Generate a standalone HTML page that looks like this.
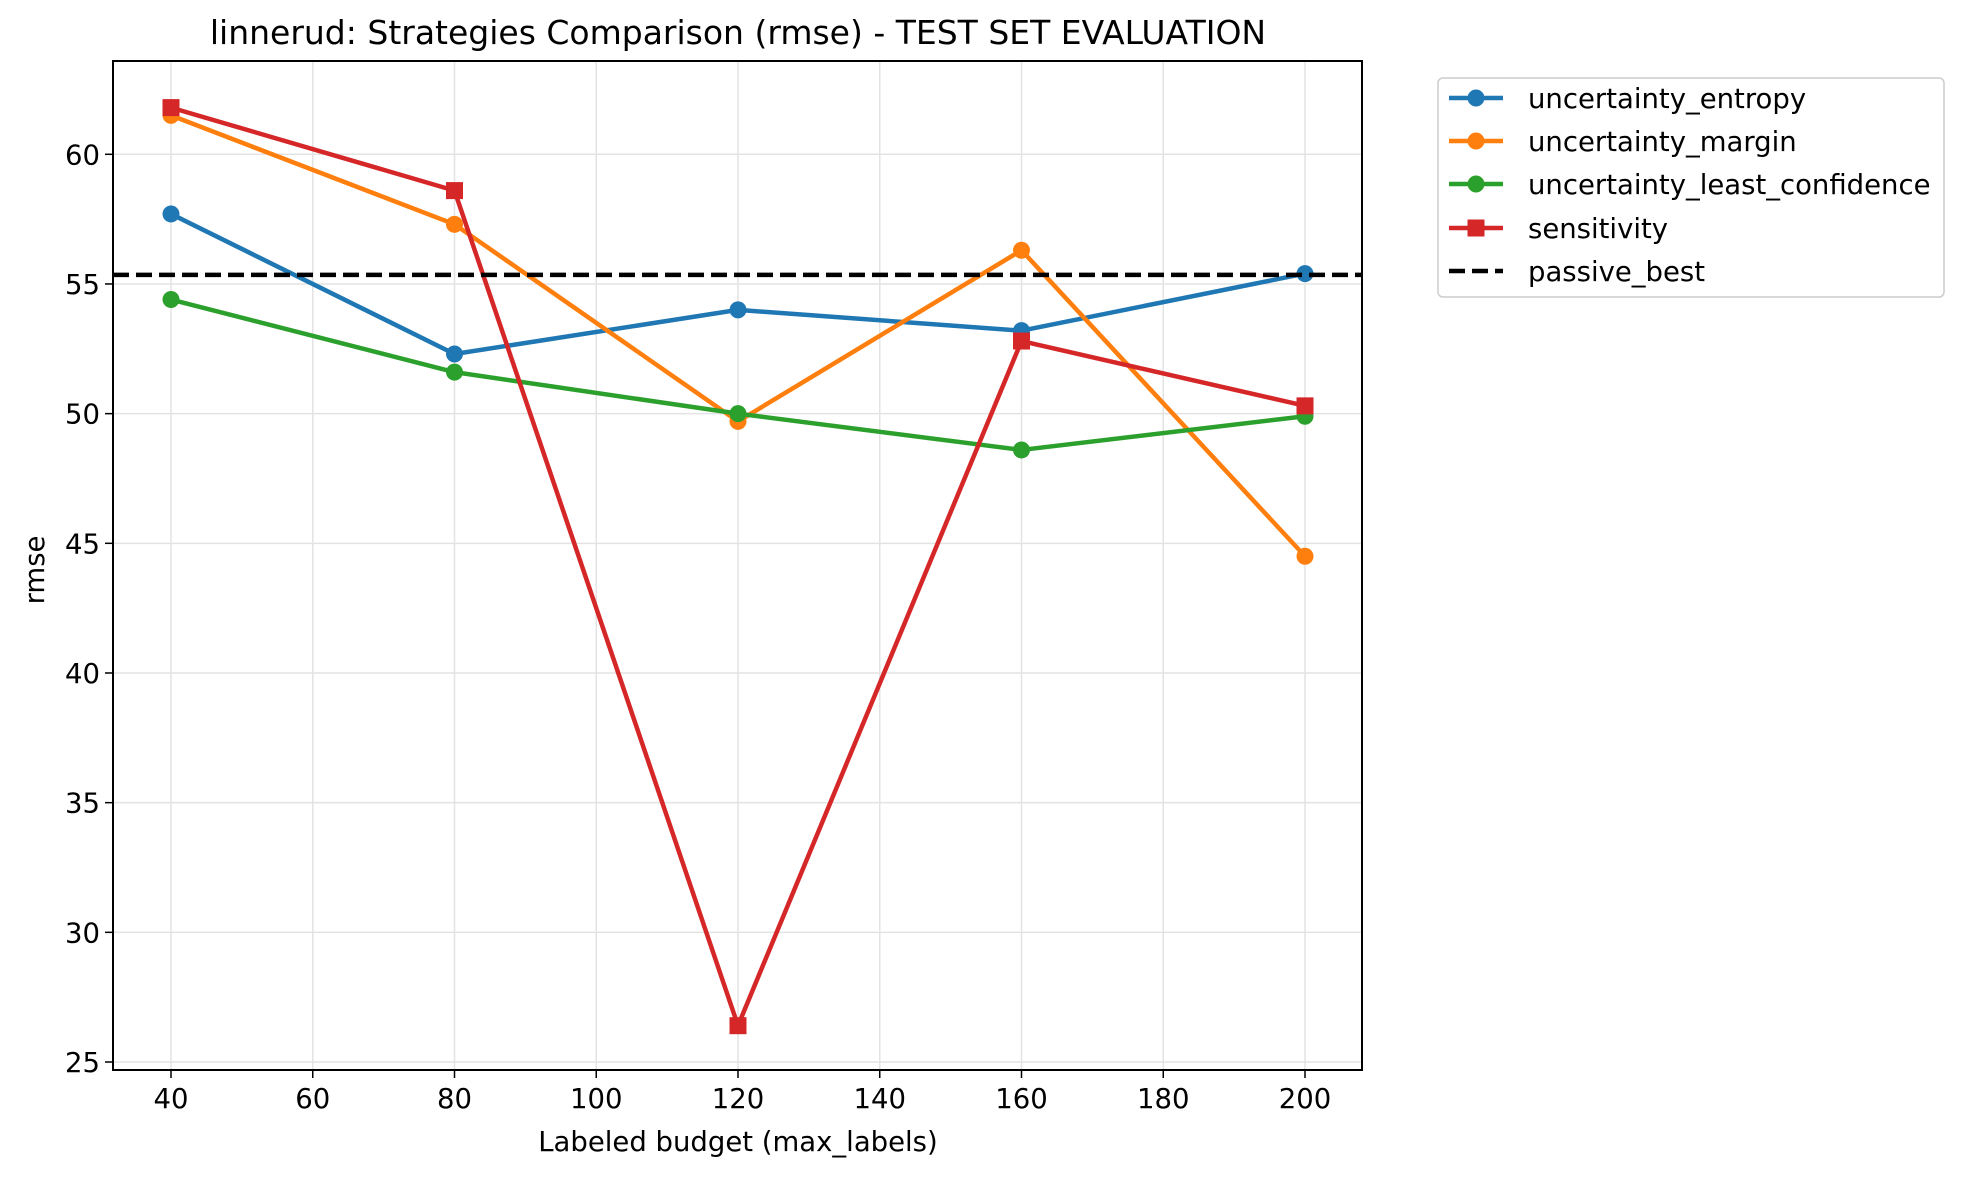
<!DOCTYPE html>
<html><head><meta charset="utf-8"><style>
body{margin:0;background:#fff;}
svg text{font-family:"DejaVu Sans","Liberation Sans",sans-serif;fill:#000;}
</style></head><body>
<svg id="chart" width="1964" height="1178" viewBox="0 0 1964 1178" xmlns="http://www.w3.org/2000/svg">
<rect width="1964" height="1178" fill="#fff"/>
<g id="grid"></g>
<g id="ticks"></g>
<g id="series"></g>
<rect x="113" y="61" width="1249" height="1009" fill="none" stroke="#000" stroke-width="2"/>
<text x="738" y="44" font-size="33" text-anchor="middle">linnerud: Strategies Comparison (rmse) - TEST SET EVALUATION</text>
<text x="738" y="1151" font-size="27.5" text-anchor="middle">Labeled budget (max_labels)</text>
<text x="0" y="0" font-size="27.5" text-anchor="middle" transform="translate(44,570) rotate(-90)">rmse</text>
<g id="legend"></g>
</svg>
<script>
const budgets=[40,80,120,160,200];
const entropy=[57.7,52.3,54.0,53.2,55.4];
const margin=[61.5,57.3,49.7,56.3,44.5];
const leastConf=[54.4,51.6,50.0,48.6,49.9];
const sensitivity=[61.8,58.6,26.4,52.8,50.3];
const passiveBest=55.35;
const xTicks=[40,60,80,100,120,140,160,180,200];
const yTicks=[25,30,35,40,45,50,55,60];
const seriesNames=["uncertainty_entropy","uncertainty_margin","uncertainty_least_confidence","sensitivity","passive_best"];

const NS="http://www.w3.org/2000/svg";
const L=113,R=1362,T=61,B=1070;
function xs(v){return 171+(v-40)*(1305-171)/160;}
function ys(v){return 154.3+(60-v)*(1062-154.3)/35;}
function mk(tag,attrs,parent){const e=document.createElementNS(NS,tag);for(const k in attrs)e.setAttribute(k,attrs[k]);parent.appendChild(e);return e;}
const grid=document.getElementById('grid'),ticks=document.getElementById('ticks'),ser=document.getElementById('series'),leg=document.getElementById('legend');
xTicks.forEach(t=>{const x=xs(t);
 const g=mk('line',{x1:x,x2:x,y1:T,y2:B,stroke:'#e3e3e3','stroke-width':1.5},grid);
 
 const tk=mk('line',{x1:x,x2:x,y1:B,y2:B+8,stroke:'#000','stroke-width':1.5},ticks);
 
 const tx=mk('text',{x:x,y:B+38,'font-size':27.5,'text-anchor':'middle'},ticks);tx.textContent=t;
 });
yTicks.forEach(t=>{const y=ys(t);
 const g=mk('line',{x1:L,x2:R,y1:y,y2:y,stroke:'#e3e3e3','stroke-width':1.5},grid);
 
 const tk=mk('line',{x1:L-8,x2:L,y1:y,y2:y,stroke:'#000','stroke-width':1.5},ticks);
 
 const tx=mk('text',{x:L-13,y:y+10,'font-size':27.5,'text-anchor':'end'},ticks);tx.textContent=t;
 });
const defs=[[entropy,'#1f77b4','o'],[margin,'#ff7f0e','o'],[leastConf,'#2ca02c','o'],[sensitivity,'#d62728','s']];
function marker(shape,x,y,c,parent){
 let m;
 if(shape==='o')m=mk('circle',{cx:x,cy:y,r:8.5,fill:c},parent);
 else m=mk('rect',{x:x-8.5,y:y-8.5,width:17,height:17,fill:c},parent);
 return m;}
defs.forEach((d,i)=>{const [vals,c,s]=d;
 const pts=vals.map((v,j)=>xs(budgets[j])+','+ys(v)).join(' ');
 const pl=mk('polyline',{points:pts,fill:'none',stroke:c,'stroke-width':4.5,'stroke-linejoin':'round'},ser);
 
 vals.forEach((v,j)=>{const m=marker(s,xs(budgets[j]),ys(v),c,ser);
  });});
const pb=mk('line',{x1:L,x2:R,y1:ys(passiveBest),y2:ys(passiveBest),stroke:'#000','stroke-width':4.5,'stroke-dasharray':'16,7'},ser);

const box=mk('rect',{x:1438,y:78,width:506,height:219,rx:5,fill:'#fff',stroke:'#ccc','stroke-width':1.5},leg);

const ly=[98,141,184,228,271];
seriesNames.forEach((n,i)=>{const y=ly[i];
 let ln;
 if(i<4){ln=mk('line',{x1:1449,x2:1503,y1:y,y2:y,stroke:defs[i][1],'stroke-width':4.5},leg);
  const m=marker(defs[i][2],1476,y,defs[i][1],leg);}
 else ln=mk('line',{x1:1449,x2:1503,y1:y,y2:y,stroke:'#000','stroke-width':4.5,'stroke-dasharray':'16,7'},leg);
 
 const t=mk('text',{x:1528,y:y+10,'font-size':27.5},leg);t.textContent=n;
 });
</script>
</body></html>
